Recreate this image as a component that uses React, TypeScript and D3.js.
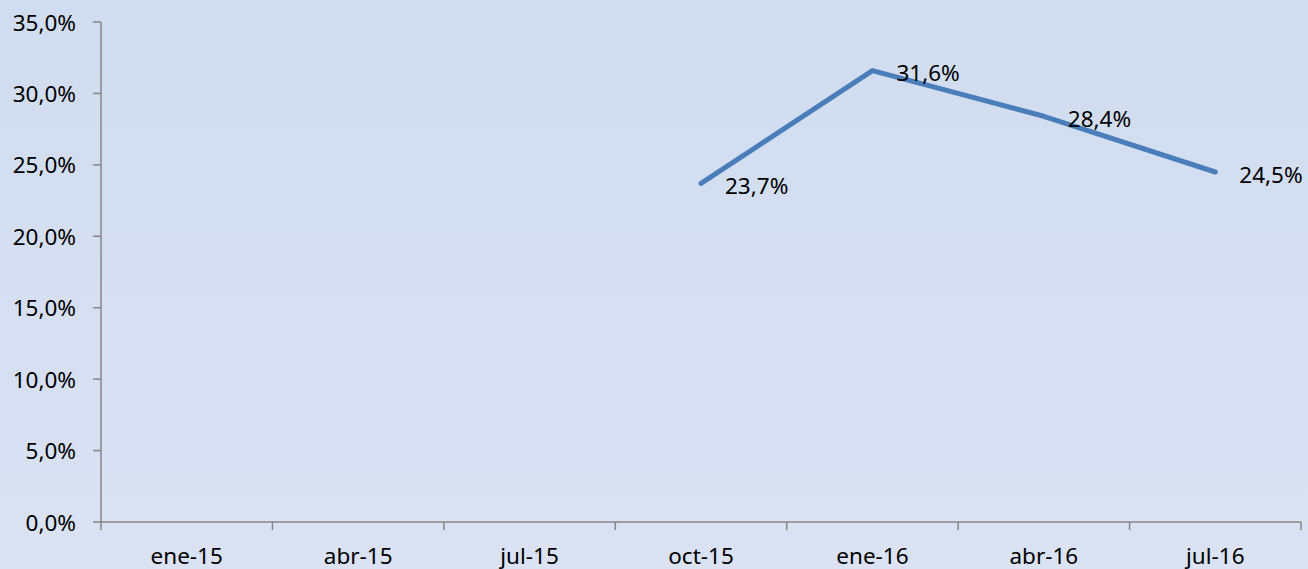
import React from "react";
import * as d3 from "d3";

const categories = ["ene-15", "abr-15", "jul-15", "oct-15", "ene-16", "abr-16", "jul-16"];
const values: (number | null)[] = [null, null, null, 23.7, 31.6, 28.4, 24.5];
const yTicks = [0, 5, 10, 15, 20, 25, 30, 35];

const W = 1308;
const H = 569;
const FONT = "'Noto Sans', 'Liberation Sans', sans-serif";
const FS = 22.5;

const fmt = (v: number) => v.toFixed(1).replace(".", ",") + "%";

export default function App() {
  const x = d3.scaleBand<string>().domain(categories).range([101, 1301]).padding(0);
  const y = d3.scaleLinear().domain([0, 35]).range([522, 22]);

  const pts = categories
    .map((c, i) => ({ c, v: values[i] }))
    .filter((d) => d.v !== null) as { c: string; v: number }[];

  const line = d3
    .line<{ c: string; v: number }>()
    .x((d) => (x(d.c) as number) + x.bandwidth() / 2)
    .y((d) => y(d.v));

  const boundaries = [...categories.map((c) => x(c) as number), 1301];

  return (
    <svg
      width={W}
      height={H}
      style={{ position: "fixed", left: 0, top: 0 }}
      fontFamily={FONT}
    >
      <defs>
        <linearGradient id="bg" x1="0" y1="0" x2="0" y2="1">
          <stop offset="0" stopColor="#D0DCEF" />
          <stop offset="1" stopColor="#DAE2F3" />
        </linearGradient>
      </defs>
      <rect x={0} y={0} width={W} height={H} fill="url(#bg)" />

      {/* Y axis */}
      <line x1={101} y1={y(35)} x2={101} y2={y(0)} stroke="#868686" strokeWidth={1.5} />
      {yTicks.map((t) => (
        <g key={t}>
          <line x1={93} y1={y(t)} x2={101} y2={y(t)} stroke="#868686" strokeWidth={1.5} />
          <text
            x={76}
            y={y(t)}
            textAnchor="end"
            dominantBaseline="central"
            fontSize={FS}
            fill="#000"
          >
            {fmt(t)}
          </text>
        </g>
      ))}

      {/* X axis */}
      <line x1={101} y1={y(0)} x2={1301} y2={y(0)} stroke="#868686" strokeWidth={1.5} />
      {boundaries.map((b, i) => (
        <line key={i} x1={b} y1={y(0)} x2={b} y2={y(0) + 8} stroke="#868686" strokeWidth={1.5} />
      ))}
      {categories.map((c) => (
        <text
          key={c}
          x={(x(c) as number) + x.bandwidth() / 2}
          y={555}
          textAnchor="middle"
          dominantBaseline="central"
          fontSize={FS}
          fill="#000"
        >
          {c}
        </text>
      ))}

      {/* Line */}
      <path
        d={line(pts) || ""}
        fill="none"
        stroke="#4A7EBB"
        strokeWidth={5}
        strokeLinecap="round"
        strokeLinejoin="round"
      />
      {pts.map((d) => (
        <text
          key={d.c}
          x={(x(d.c) as number) + x.bandwidth() / 2 + 24}
          y={y(d.v) + 2}
          dominantBaseline="central"
          fontSize={FS}
          fill="#000"
        >
          {fmt(d.v)}
        </text>
      ))}
    </svg>
  );
}
